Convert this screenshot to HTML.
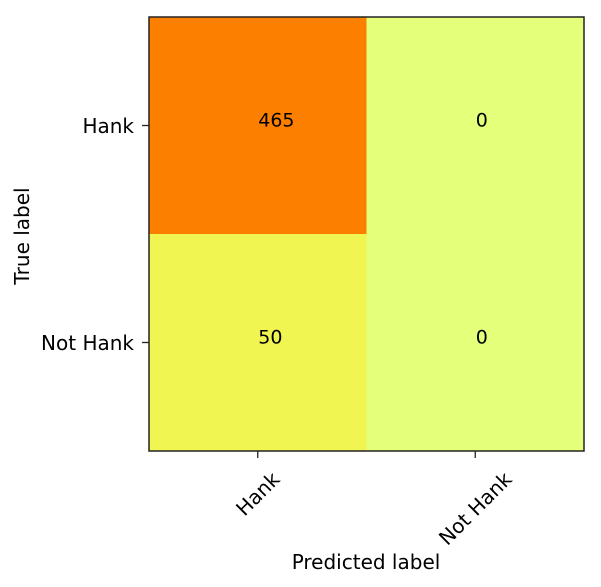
<!DOCTYPE html>
<html><head><meta charset="utf-8"><style>body{margin:0;background:#fff}svg{display:block;font-family:"DejaVu Sans","Liberation Sans",sans-serif}</style></head>
<body>
<svg id="c" width="601" height="587"></svg>
<script>
const rowLabels = ["Hank","Not Hank"];
const colLabels = ["Hank","Not Hank"];
const values = [[465,0],[50,0]];
const vmax = 465;
const svg = document.getElementById('c');
const NS = 'http://www.w3.org/2000/svg';
const L=149, T=17, W=435, H=434, FS=20, VFS=19;
const cw = W/colLabels.length, ch = H/rowLabels.length;
function xC(j){return L+cw*(j+0.5);}
function yC(i){return T+ch*(i+0.5);}
const stops=[[228,255,122],[255,232,26],[255,189,0],[255,160,0],[252,127,0]];
function color(v){
  const t=Math.max(0,Math.min(1,v/vmax))*(stops.length-1);
  const k=Math.min(stops.length-2,Math.floor(t)), f=t-k;
  return 'rgb('+stops[k].map((c,m)=>Math.round(c+(stops[k+1][m]-c)*f)).join(',')+')';
}
function mk(tag, attrs, parent){
  const e=document.createElementNS(NS,tag);
  for(const k in attrs) e.setAttribute(k, attrs[k]);
  (parent||svg).appendChild(e); return e;
}
values.forEach((row,i)=>row.forEach((v,j)=>{
  const r=mk('rect',{x:L+cw*j,y:T+ch*i,width:cw+0.5,height:ch+0.5,fill:color(v)});
  
  
  const t=mk('text',{x:xC(j)+0.5,y:yC(i)+1,'text-anchor':'start','font-size':VFS,fill:'#000'});
  t.textContent=v;
  
  
}));
const frame=mk('rect',{x:L,y:T,width:W,height:H,fill:'none',stroke:'#222','stroke-width':'1.5'});


rowLabels.forEach((lab,i)=>{
  mk('line',{x1:L-7,x2:L,y1:yC(i),y2:yC(i),stroke:'#222','stroke-width':'1.3'});
  const t=mk('text',{x:L-15,y:yC(i)+7.5,'text-anchor':'end','font-size':FS});
  t.textContent=lab;
  
  
});
colLabels.forEach((lab,j)=>{
  mk('line',{x1:xC(j),x2:xC(j),y1:T+H,y2:T+H+7,stroke:'#222','stroke-width':'1.3'});
  const t=mk('text',{x:0,y:0,'text-anchor':'middle','dominant-baseline':'central','font-size':FS});
  t.textContent=lab;
  const len=t.getComputedTextLength();
  const half=(len*0.707+FS*0.8*0.707)/2;
  const x=xC(j), y=T+H+19+half;
  t.setAttribute('x',x); t.setAttribute('y',y);
  t.setAttribute('transform','rotate(-45 '+x+' '+y+')');
  
  
});
const xt=mk('text',{x:366,y:569,'text-anchor':'middle','font-size':FS});
xt.textContent='Predicted label';


const yt=mk('text',{x:29,y:236,'text-anchor':'middle','font-size':FS,transform:'rotate(-90 29 236)'});
yt.textContent='True label';


</script>
</body></html>
